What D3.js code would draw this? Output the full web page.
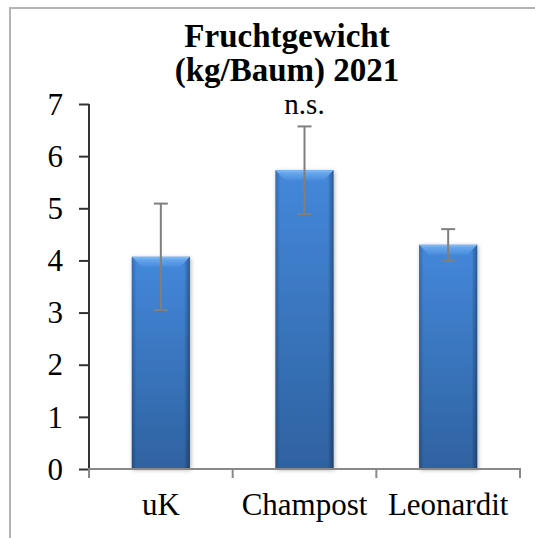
<!DOCTYPE html>
<html>
<head>
<meta charset="utf-8">
<title>Fruchtgewicht</title>
<script src="https://cdn.jsdelivr.net/npm/d3@7"></script>
<style>
html, body { margin: 0; background: #fff; }
svg { display: block; }
</style>
</head>
<body>
<svg width="535" height="538"></svg>
<script>
// data
var categories = ["uK", "Champost", "Leonardit"];
var means = [4.07, 5.73, 4.30];
var errors = [1.02, 0.84, 0.30];
var yTicks = [0, 1, 2, 3, 4, 5, 6, 7];
var titleLines = ["Fruchtgewicht", "(kg/Baum) 2021"];
var note = "n.s.";

var serif = "'Liberation Serif', 'Times New Roman', serif";
var svg = d3.select("svg");

// outer frame (chart area border)
svg.append("rect")
    .attr("x", 10).attr("y", 8)
    .attr("width", 560).attr("height", 560)
    .attr("fill", "none")
    .attr("stroke", "#b3b3b3")
    .attr("stroke-width", 2);

var x = d3.scaleBand().domain(categories).range([89, 520]),
    y = d3.scaleLinear().domain([0, 7]).range([469, 104]);

var barW = x.bandwidth() * 0.405;

var defs = svg.append("defs");
var body = defs.append("linearGradient").attr("id", "body")
    .attr("x1", 0).attr("y1", 0).attr("x2", 0).attr("y2", 1);
body.append("stop").attr("offset", "0%").attr("stop-color", "#4488db");
body.append("stop").attr("offset", "100%").attr("stop-color", "#2f62a0");

var edge = defs.append("linearGradient").attr("id", "edge")
    .attr("x1", 0).attr("y1", 0).attr("x2", 1).attr("y2", 0);
edge.append("stop").attr("offset", "0%").attr("stop-color", "#000").attr("stop-opacity", 0.22);
edge.append("stop").attr("offset", "8%").attr("stop-color", "#000").attr("stop-opacity", 0);
edge.append("stop").attr("offset", "90%").attr("stop-color", "#000").attr("stop-opacity", 0);
edge.append("stop").attr("offset", "100%").attr("stop-color", "#000").attr("stop-opacity", 0.35);

var bevel = defs.append("linearGradient").attr("id", "bevel")
    .attr("x1", 0).attr("y1", 0).attr("x2", 0).attr("y2", 1);
bevel.append("stop").attr("offset", "0%").attr("stop-color", "#86bdf6");
bevel.append("stop").attr("offset", "30%").attr("stop-color", "#65a5ec");
bevel.append("stop").attr("offset", "100%").attr("stop-color", "#4a8cdc");

var shadow = defs.append("filter").attr("id", "shadow")
    .attr("x", "-20%").attr("y", "-10%").attr("width", "140%").attr("height", "120%");
shadow.append("feDropShadow")
    .attr("dx", 1).attr("dy", 1).attr("stdDeviation", 2)
    .attr("flood-color", "#000").attr("flood-opacity", 0.3);

var data = categories.map(function(c, i) {
  return {cat: c, mean: means[i], err: errors[i]};
});

var bars = svg.append("g").selectAll("g")
    .data(data)
    .enter().append("g");

function bx(d) { return x(d.cat) + (x.bandwidth() - barW) / 2; }

bars.append("rect")
    .attr("x", bx)
    .attr("y", function(d) { return y(d.mean); })
    .attr("width", barW)
    .attr("height", function(d) { return y(0) - y(d.mean); })
    .attr("fill", "url(#body)")
    .attr("filter", "url(#shadow)");

bars.append("rect")
    .attr("x", bx)
    .attr("y", function(d) { return y(d.mean); })
    .attr("width", barW)
    .attr("height", function(d) { return y(0) - y(d.mean); })
    .attr("fill", "url(#edge)");

var b = 10;
bars.append("polygon")
    .attr("points", function(d) {
      var x0 = bx(d), x1 = x0 + barW, t = y(d.mean);
      return [[x0, t], [x1, t], [x1 - b, t + b], [x0 + b, t + b]].join(" ");
    })
    .attr("fill", "url(#bevel)");

// error bars
var cap = 7;
var eb = svg.append("g").attr("stroke", "#7f7f7f").attr("stroke-width", 2);
data.forEach(function(d) {
  var cx = x(d.cat) + x.bandwidth() / 2;
  eb.append("line").attr("x1", cx).attr("x2", cx)
      .attr("y1", y(d.mean + d.err)).attr("y2", y(d.mean - d.err));
  [d.mean + d.err, d.mean - d.err].forEach(function(v) {
    eb.append("line").attr("x1", cx - cap).attr("x2", cx + cap)
        .attr("y1", y(v)).attr("y2", y(v));
  });
});

// y axis
var yAxis = svg.append("g")
    .attr("transform", "translate(89,0)")
    .call(d3.axisLeft(y).tickValues(yTicks).tickFormat(d3.format("d"))
      .tickSize(10).tickPadding(16).tickSizeOuter(0));
yAxis.select(".domain").attr("stroke", "#333").attr("stroke-width", 2)
    .attr("d", "M0," + y(7) + "V" + y(0));
yAxis.selectAll(".tick line").attr("stroke", "#333").attr("stroke-width", 2);
yAxis.selectAll(".tick text")
    .attr("fill", "#000")
    .attr("font-size", 31)
    .attr("font-family", serif)
    .attr("dy", "0.33em");

// x axis with ticks on band edges
var xa = svg.append("g").attr("stroke", "#888").attr("stroke-width", 2);
xa.append("line")
    .attr("x1", x.range()[0] - 1).attr("x2", x.range()[1] + 1)
    .attr("y1", y(0)).attr("y2", y(0));
var edges = categories.map(function(c) { return x(c); }).concat([x.range()[1]]);
edges.forEach(function(e) {
  xa.append("line").attr("x1", e).attr("x2", e)
      .attr("y1", y(0)).attr("y2", y(0) + 9);
});

svg.append("g").selectAll("text")
    .data(categories)
    .enter().append("text")
    .attr("x", function(c) { return x(c) + x.bandwidth() / 2; })
    .attr("y", 515)
    .attr("text-anchor", "middle")
    .attr("font-family", serif)
    .attr("font-size", 31)
    .text(function(c) { return c; });

// title
svg.append("g").selectAll("text")
    .data(titleLines)
    .enter().append("text")
    .attr("x", 287)
    .attr("y", function(d, i) { return 47 + i * 34; })
    .attr("text-anchor", "middle")
    .attr("font-family", serif)
    .attr("font-size", 33)
    .attr("font-weight", "bold")
    .text(function(d) { return d; });

// significance note
svg.append("text")
    .attr("x", x("Champost") + x.bandwidth() / 2)
    .attr("y", y(means[1] + errors[1]) - 12)
    .attr("text-anchor", "middle")
    .attr("font-family", serif)
    .attr("font-size", 29)
    .text(note);
</script>
</body>
</html>
